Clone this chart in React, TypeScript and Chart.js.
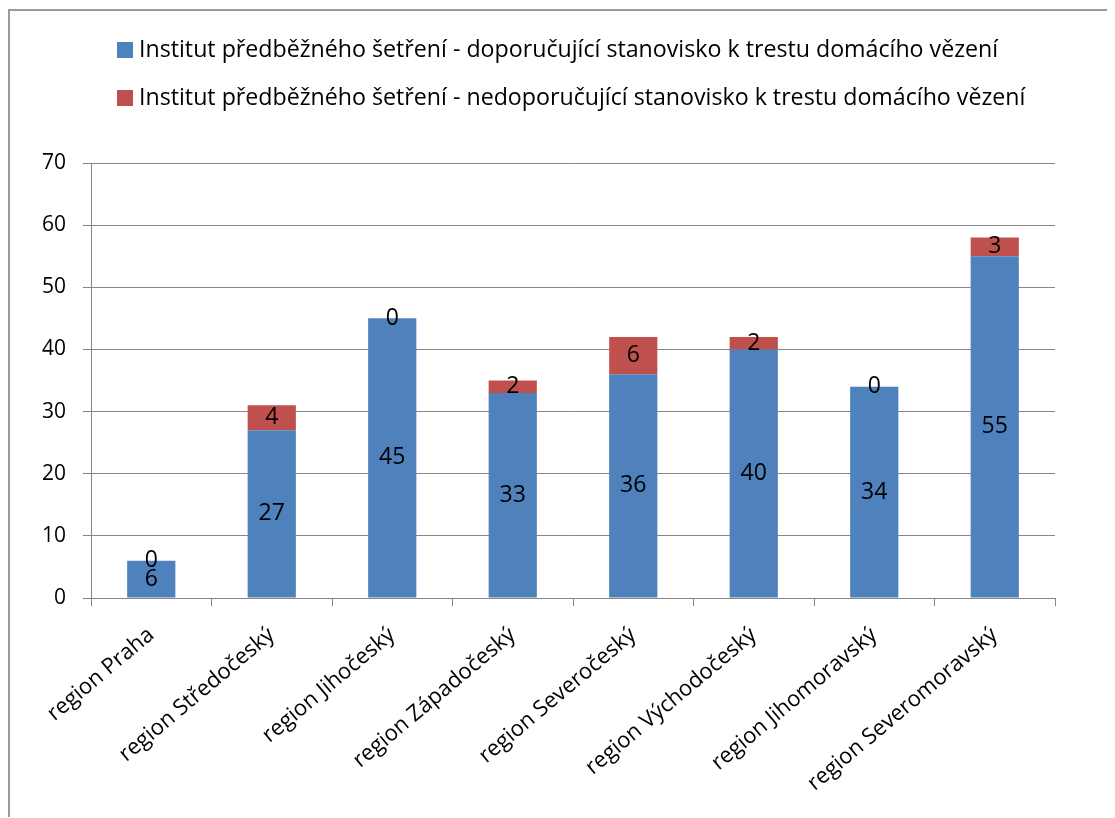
import React, { useEffect, useRef } from "react";
import { Chart, registerables } from "chart.js";

Chart.register(...registerables);

const categories = [
  "region Praha",
  "region Středočeský",
  "region Jihočeský",
  "region Západočeský",
  "region Severočeský",
  "region Východočeský",
  "region Jihomoravský",
  "region Severomoravský",
];
const recommending = [6, 27, 45, 33, 36, 40, 34, 55];
const notRecommending = [0, 4, 0, 2, 6, 2, 0, 3];
const seriesNames = [
  "Institut předběžného šetření - doporučující stanovisko k trestu domácího vězení",
  "Institut předběžného šetření - nedoporučující stanovisko k trestu domácího vězení",
];
const seriesColors = ["#4F81BD", "#C0504D"];

const FONT = "'Open Sans', sans-serif";

const valueLabels = {
  id: "valueLabels",
  afterDatasetsDraw(chart: any) {
    const ctx = chart.ctx;
    ctx.save();
    ctx.font = `23px ${FONT}`;
    ctx.fillStyle = "#000";
    ctx.textAlign = "center";
    ctx.textBaseline = "middle";
    chart.data.datasets.forEach((ds: any, di: number) => {
      const meta = chart.getDatasetMeta(di);
      meta.data.forEach((el: any, i: number) => {
        const y = (el.y + el.base) / 2;
        ctx.fillText(String(ds.data[i]), el.x, y);
      });
    });
    ctx.restore();
  },
};

const customLegend = {
  id: "customLegend",
  afterDraw(chart: any) {
    const ctx = chart.ctx;
    ctx.save();
    ctx.font = `23.2px ${FONT}`;
    ctx.textAlign = "left";
    ctx.textBaseline = "middle";
    chart.data.datasets.forEach((ds: any, i: number) => {
      const top = 31 + i * 48;
      ctx.fillStyle = ds.backgroundColor;
      ctx.fillRect(107, top, 16, 16);
      ctx.fillStyle = "#000";
      ctx.fillText(ds.label, 129, top + 8);
    });
    ctx.restore();
  },
};

export default function App() {
  const ref = useRef<HTMLCanvasElement>(null);
  useEffect(() => {
    const chart = new Chart(ref.current!, {
      type: "bar",
      data: {
        labels: categories,
        datasets: [
          {
            label: seriesNames[0],
            data: recommending,
            backgroundColor: seriesColors[0],
            categoryPercentage: 1,
            barPercentage: 0.4,
          },
          {
            label: seriesNames[1],
            data: notRecommending,
            backgroundColor: seriesColors[1],
            categoryPercentage: 1,
            barPercentage: 0.4,
          },
        ],
      },
      options: {
        animation: false,
        responsive: false,
        maintainAspectRatio: false,
        layout: { padding: { left: 20, right: 60, top: 152, bottom: 8 } },
        plugins: {
          tooltip: { enabled: false },
          legend: { display: false },
        },
        scales: {
          x: {
            stacked: true,
            offset: true,
            border: { color: "#868686", width: 1 },
            grid: {
              display: true,
              drawOnChartArea: false,
              drawTicks: true,
              tickLength: 8,
              color: "#868686",
              offset: true,
            },
            ticks: {
              color: "#000",
              font: { family: FONT, size: 22 },
              minRotation: 40,
              maxRotation: 40,
              autoSkip: false,
              padding: 16,
            },
            afterFit(scale: any) {
              scale.height = 212;
            },
          },
          y: {
            stacked: true,
            min: 0,
            max: 70,
            border: { color: "#868686", width: 1 },
            grid: { color: "#868686", tickLength: 8, drawTicks: true },
            ticks: {
              stepSize: 10,
              color: "#000",
              font: { family: FONT, size: 21 },
              padding: 17,
            },
            afterFit(scale: any) {
              scale.width = 61;
            },
          },
        },
      },
      plugins: [valueLabels, customLegend],
    });
    return () => chart.destroy();
  }, []);
  return (
    <div
      style={{
        position: "relative",
        top: 1,
        borderLeft: "2px solid #9a9a9a",
        borderTop: "2px solid #9a9a9a",
        width: 1105,
        height: 807,
        overflow: "hidden",
      }}
    >
      <canvas ref={ref} width={1105} height={807} style={{ display: "block" }} />
    </div>
  );
}
